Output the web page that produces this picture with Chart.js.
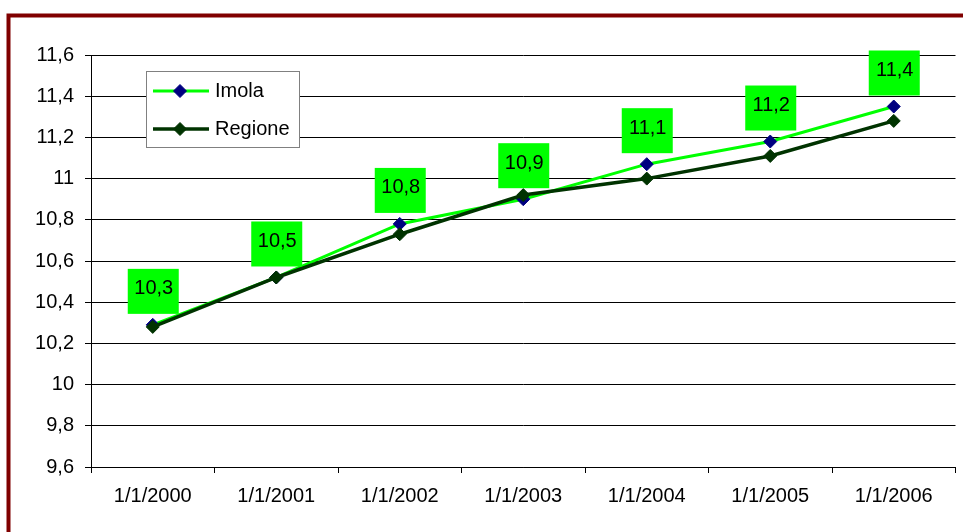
<!DOCTYPE html>
<html>
<head>
<meta charset="utf-8">
<script src="https://cdn.jsdelivr.net/npm/chart.js@4.4.1/dist/chart.umd.min.js"></script>
<style>
  html, body { margin: 0; padding: 0; background: #fff; }
  #wrap { width: 963px; height: 532px; }
</style>
</head>
<body>
<div id="wrap"><canvas id="lineChart" width="963" height="532"></canvas></div>
<script>
const categories = ['1/1/2000', '1/1/2001', '1/1/2002', '1/1/2003', '1/1/2004', '1/1/2005', '1/1/2006'];
const imola = [10.29, 10.52, 10.78, 10.90, 11.07, 11.18, 11.35];
const regione = [10.28, 10.52, 10.73, 10.92, 11.0, 11.11, 11.28];
const imolaLabels = ['10,3', '10,5', '10,8', '10,9', '11,1', '11,2', '11,4'];
const yTicks = [9.6, 9.8, 10, 10.2, 10.4, 10.6, 10.8, 11, 11.2, 11.4, 11.6];

const FONT = 'Liberation Sans, Arial, sans-serif';

// cornice rossa attorno al grafico
const framePlugin = {
    id: 'frame',
    beforeDraw(chart) {
        const c = chart.ctx;
        c.save();
        c.strokeStyle = '#800000';
        c.lineWidth = 4;
        c.strokeRect(8.5, 15.5, 1100, 1100);
        c.restore();
    }
};

// etichette verdi sopra i punti di Imola + legenda interna
const labelsPlugin = {
    id: 'boxLabels',
    afterDatasetsDraw(chart) {
        const c = chart.ctx;
        const meta = chart.getDatasetMeta(0);
        c.save();
        c.font = '20px ' + FONT;
        c.textAlign = 'center';
        c.textBaseline = 'middle';
        meta.data.forEach((pt, i) => {
            c.fillStyle = '#00ff00';
            c.fillRect(pt.x - 25, pt.y - 56, 51, 45);
            c.fillStyle = '#000';
            c.fillText(imolaLabels[i], pt.x + 1, pt.y - 36);
        });

        // legenda
        c.fillStyle = '#fff';
        c.fillRect(146.5, 71.5, 153, 76);
        c.strokeStyle = '#808080';
        c.lineWidth = 1;
        c.strokeRect(146.5, 71.5, 153, 76);
        const rows = [[0, 91], [1, 129]];
        rows.forEach(([di, y]) => {
            const ds = chart.data.datasets[di];
            c.strokeStyle = ds.borderColor;
            c.lineWidth = ds.borderWidth;
            c.beginPath();
            c.moveTo(153, y);
            c.lineTo(209, y);
            c.stroke();
            c.fillStyle = ds.pointBackgroundColor;
            c.strokeStyle = ds.pointBorderColor;
            c.lineWidth = 1;
            c.beginPath();
            c.moveTo(173.5, y); c.lineTo(180, y - 6.5); c.lineTo(186.5, y); c.lineTo(180, y + 6.5);
            c.closePath();
            c.fill();
            c.stroke();
            c.fillStyle = '#000';
            c.textAlign = 'left';
            c.fillText(ds.label, 215, y);
        });
        c.restore();
    }
};

const ctx = document.getElementById('lineChart').getContext('2d');
const myChart = new Chart(ctx, {
    type: 'line',
    data: {
        labels: categories,
        datasets: [{
            label: 'Imola',
            data: imola,
            borderColor: '#00ff00',
            borderWidth: 3,
            pointStyle: 'rectRot',
            pointRadius: 6.5,
            pointBorderWidth: 1,
            pointBackgroundColor: '#000080',
            pointBorderColor: '#000080',
            tension: 0,
            order: 1
        }, {
            label: 'Regione',
            data: regione,
            borderColor: '#003300',
            borderWidth: 3.5,
            pointStyle: 'rectRot',
            pointRadius: 6.5,
            pointBorderWidth: 1,
            pointBackgroundColor: '#003300',
            pointBorderColor: '#003300',
            tension: 0,
            order: 0
        }]
    },
    options: {
        responsive: false,
        animation: false,
        layout: { padding: { left: 0, top: 55, right: 6, bottom: 0 } },
        plugins: {
            legend: { display: false },
            tooltip: { enabled: false }
        },
        scales: {
            x: {
                offset: true,
                grid: {
                    offset: true,
                    display: true,
                    drawOnChartArea: false,
                    drawTicks: true,
                    tickLength: 6,
                    color: '#000'
                },
                border: { color: '#000', width: 1 },
                ticks: {
                    color: '#000',
                    font: { family: FONT, size: 20 },
                    padding: 11,
                    maxRotation: 0,
                    autoSkip: false
                },
                afterFit(scale) { scale.height = 65; }
            },
            y: {
                min: 9.6,
                max: 11.6,
                afterBuildTicks(scale) {
                    scale.ticks = yTicks.map(v => ({ value: v }));
                },
                grid: {
                    color: '#000',
                    lineWidth: 1,
                    tickLength: 6
                },
                border: { color: '#000', width: 1 },
                ticks: {
                    color: '#000',
                    font: { family: FONT, size: 20 },
                    padding: 11,
                    callback: v => String(Math.round(v * 10) / 10).replace('.', ',')
                },
                afterFit(scale) { scale.width = 91; }
            }
        }
    },
    plugins: [framePlugin, labelsPlugin]
});
</script>
</body>
</html>
